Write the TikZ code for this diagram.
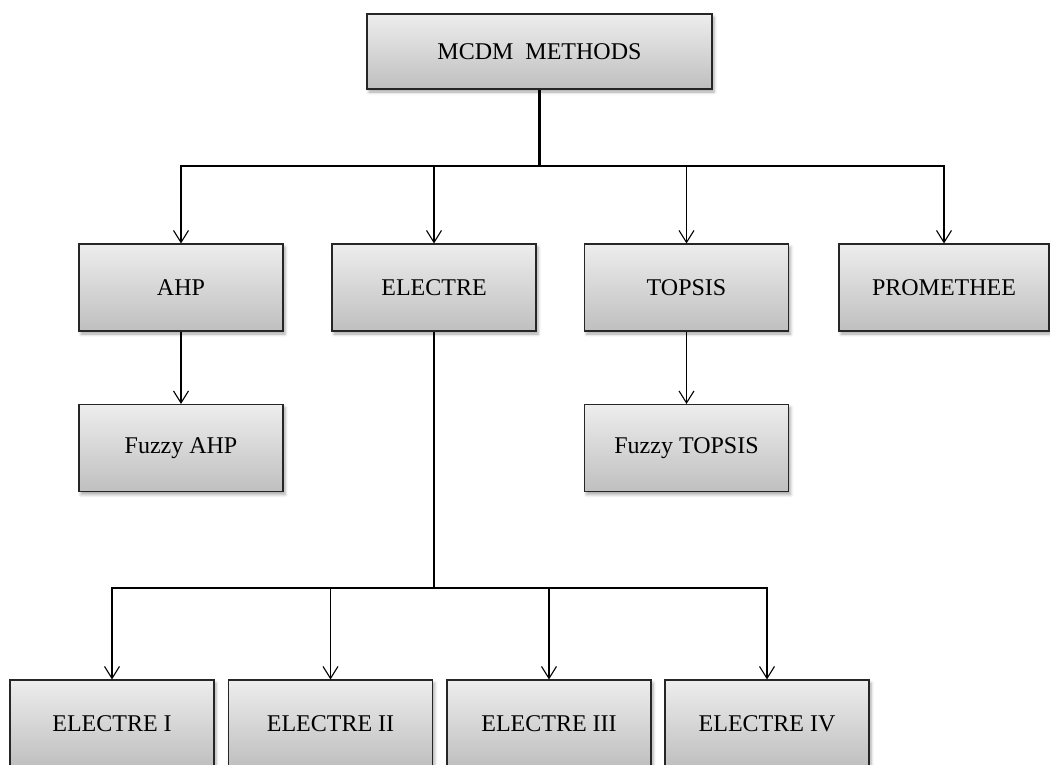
\documentclass[tikz,border=0pt]{standalone}
\usepackage{fontspec}
\setmainfont{Liberation Serif}
\usetikzlibrary{arrows.meta,shadows.blur}
\tikzset{
  box/.style={draw=black!85, line width=1.1pt, top color=black!7, bottom color=black!25,
    minimum width=204pt, minimum height=87pt, inner sep=0pt, font=\fontsize{24}{28}\selectfont,
    blur shadow={shadow xshift=2pt, shadow yshift=-3pt, shadow blur radius=3pt, shadow opacity=35}},
  conn/.style={line width=1.1pt, black},
  arr/.style={conn, -{Straight Barb[length=12pt,width=15pt,line width=1.1pt]}}
}
\begin{document}
\begin{tikzpicture}[x=1pt,y=1pt]
\useasboundingbox (0,0) rectangle (1050,-764);
\node[box, minimum width=345pt, minimum height=75pt] (mcdm) at (539.5,-51.5) {MCDM\ \ METHODS};
\node[box] (ahp) at (181,-287.5) {AHP};
\node[box] (electre) at (434,-287.5) {ELECTRE};
\node[box] (topsis) at (686.5,-287.5) {TOPSIS};
\node[box, minimum width=210pt] (prom) at (944,-287.5) {PROMETHEE};
\node[box] (fahp) at (181,-448) {Fuzzy AHP};
\node[box] (ftopsis) at (686.5,-448) {Fuzzy TOPSIS};
\node[box] (e1) at (112,-723.5) {ELECTRE I};
\node[box] (e2) at (330.5,-723.5) {ELECTRE II};
\node[box] (e3) at (549,-723.5) {ELECTRE III};
\node[box] (e4) at (767,-723.5) {ELECTRE IV};
\coordinate (j1) at (539.5,-166);
\coordinate (j2) at (434,-588);
\draw[conn, line width=2.2pt] (mcdm.south) -- (j1);
\draw[arr] (j1) -| (ahp.north);
\draw[arr] (j1) -| (electre.north);
\draw[arr] (j1) -| (topsis.north);
\draw[arr] (j1) -| (prom.north);
\draw[arr] (ahp.south) -- (fahp.north);
\draw[arr] (topsis.south) -- (ftopsis.north);
\draw[conn] (electre.south) -- (j2);
\draw[arr] (j2) -| (e1.north);
\draw[arr] (j2) -| (e2.north);
\draw[arr] (j2) -| (e3.north);
\draw[arr] (j2) -| (e4.north);
\end{tikzpicture}
\end{document}
